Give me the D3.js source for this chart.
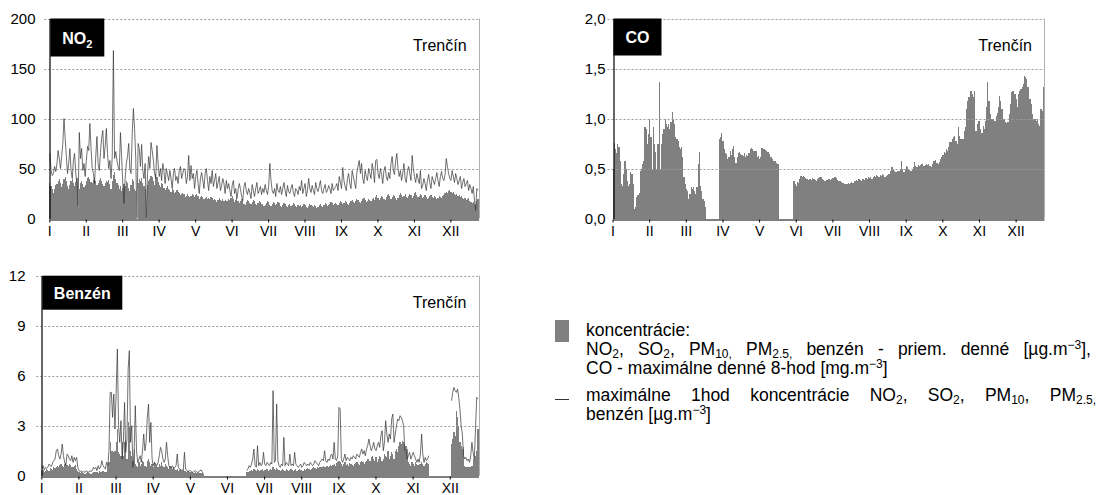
<!DOCTYPE html>
<html><head><meta charset="utf-8">
<script src="https://cdn.jsdelivr.net/npm/d3@7"></script>
<style>body{margin:0;background:#fff}svg{display:block;font-family:"Liberation Sans",Arial,sans-serif}</style>
</head><body><svg id="c" width="1102" height="495"></svg>
<script>
// ---------- data ----------
const monthLabels = ["I","II","III","IV","V","VI","VII","VIII","IX","X","XI","XII"];
const monthStart = [0,31,59,90,120,151,181,212,243,273,304,334];
const monthTickDays = [0,31,62,93,124,155,186,217,248,279,310,341];
const station = "Trenčín";
const no2Ticks = [0,50,100,150,200];
const coTicks = [0,0.5,1,1.5,2];
const benzTicks = [0,3,6,9,12];
const N = null;

const no2Daily = [
[36,33,30,26,30,34,35,38,40,36,32,35,40,42,38,33,30,34,38,40,36,33,37,41,12,30,36,38,35,32,34],
[38,41,42,40,37,36,39,41,38,34,36,39,41,38,35,33,36,38,37,39,35,30,38,44,47,40,36,34],
[30,33,28,31,35,33,38,36,31,28,34,40,38,30,28,0,36,40,38,41,36,33,30,0,34,38,40,43,42,38,34],
[45,42,37,34,32,36,35,31,29,31,33,30,29,27,30,29,26,27,29,27,26,24,25,26,25,22,23,25,23,22],
[23,25,24,22,24,25,23,20,22,23,22,20,21,22,20,21,20,22,21,19,20,19,17,19,21,19,18,20,18,19,18],
[18,20,19,21,23,20,17,19,21,18,16,18,20,19,15,14,17,19,18,16,15,17,19,18,15,14,16,18,17,15],
[15,13,14,16,18,17,14,13,15,17,16,14,15,17,16,13,12,14,16,15,13,12,14,15,13,14,16,15,13,12,14],
[13,14,12,13,15,14,12,11,13,15,14,13,12,14,13,11,12,14,15,13,12,14,16,15,13,14,15,17,16,14,15],
[16,15,14,16,18,17,15,16,18,17,15,14,16,18,19,17,16,18,20,19,17,16,18,20,21,19,17,18,20,19],
[18,20,21,19,22,24,21,19,21,23,22,20,19,22,24,25,23,20,22,24,23,21,19,21,24,26,24,22,23,25,22],
[21,23,25,24,21,23,26,27,24,22,23,25,24,21,22,24,22,20,21,23,24,22,21,23,22,20,21,23,22,21],
[23,24,26,27,26,28,29,27,26,27,25,24,25,23,24,22,23,21,20,21,19,20,21,18,17,16,17,15,14,18,20]
];
const no2Max = [
[65,48,43,45,52,47,55,68,60,50,62,75,100,80,62,45,55,70,48,40,58,65,45,35,12,86,60,70,48,55,42],
[58,72,68,95,70,50,45,35,62,82,55,48,66,80,88,60,72,90,65,50,58,40,62,168,60,67,58,52],
[48,86,62,35,15,40,55,62,75,50,45,85,110,90,60,0,75,70,52,74,48,40,55,0,45,62,50,76,68,58,45],
[40,73,55,42,50,38,55,47,35,50,44,38,48,40,30,45,50,38,42,35,48,52,40,45,50,48,35,42,63,38],
[53,40,45,30,42,48,35,25,40,46,38,30,45,50,38,28,42,35,48,32,38,45,30,36,42,28,33,40,35,25,38],
[30,35,28,22,33,38,25,30,20,28,35,30,22,18,32,36,28,24,30,26,20,34,28,22,30,36,25,28,32,24],
[30,26,34,28,24,32,55,38,28,25,30,22,35,28,26,32,24,30,36,28,22,33,27,25,30,34,26,22,30,28,24],
[32,28,38,25,30,35,22,28,40,30,26,33,28,24,36,30,27,32,38,28,25,30,34,26,28,33,30,25,35,28,30],
[32,35,28,42,36,30,51,38,32,28,40,45,35,30,48,42,36,30,46,52,58,45,55,40,35,48,42,38,50,45],
[40,55,48,36,58,59,45,40,50,44,35,48,52,42,38,46,40,55,62,48,44,58,65,50,42,48,38,45,55,40,36],
[48,52,45,38,63,50,42,36,45,40,35,48,30,33,40,35,28,38,44,36,30,42,38,34,40,46,38,32,42,47],
[40,38,44,60,52,45,40,38,48,42,36,45,40,34,38,42,30,36,40,32,35,38,28,34,30,25,32,18,8,30,28]
];
const coDaily = [
[0.5,0.76,0.7,0.66,0.75,0.72,0.58,0.35,0.33,0.45,0.58,0.5,0.38,0.33,0.35,0.47,0.45,0.35,0.1,0.12,0.22,0.24,0.26,0.48,0.5,0.55,0.58,0.92,0.9,0.75,0.85],
[1.0,0.82,0.5,0.92,0.75,0.67,0.5,0.75,1.37,0.5,0.75,0.85,0.9,1.0,0.95,0.92,0.95,0.9,0.97,1.07,1.0,0.95,0.82,0.8,0.78,0.72,0.7,0.72],
[0.62,0.42,0.35,0.3,0.28,0.2,0.25,0.32,0.3,0.32,0.28,0.25,0.32,0.55,0.67,0.33,0.28,0.2,0.18,0.12,N,N,N,N,N,N,N,N,N,N,N],
[0.8,0.82,0.86,0.78,0.7,0.66,0.65,0.6,0.62,0.68,0.64,0.7,0.73,0.62,0.56,0.62,0.66,0.67,0.65,0.64,0.63,0.66,0.62,0.64,0.63,0.66,0.7,0.71,0.7,0.68],
[0.68,0.68,0.62,0.63,0.6,0.62,0.71,0.7,0.7,0.69,0.68,0.67,0.65,0.62,0.62,0.6,0.58,0.58,0.56,0.55,0.55,N,N,N,N,N,N,N,N,N,N],
[N,N,0.38,0.35,0.33,0.37,0.36,0.4,0.43,0.42,0.43,0.42,0.41,0.4,0.39,0.4,0.4,0.39,0.41,0.4,0.39,0.38,0.4,0.41,0.42,0.42,0.4,0.39,0.38,0.38],
[0.39,0.4,0.4,0.39,0.4,0.41,0.42,0.42,0.41,0.39,0.38,0.38,0.37,0.36,0.36,0.35,0.35,0.35,0.36,0.35,0.36,0.37,0.36,0.38,0.38,0.39,0.38,0.4,0.39,0.38,0.4],
[0.4,0.39,0.41,0.4,0.42,0.41,0.42,0.4,0.42,0.43,0.42,0.44,0.43,0.42,0.44,0.43,0.45,0.44,0.42,0.43,0.44,0.45,0.45,0.48,0.52,0.5,0.48,0.47,0.47,0.48,0.48],
[0.49,0.58,0.5,0.47,0.5,0.53,0.52,0.5,0.49,0.48,0.5,0.52,0.57,0.53,0.52,0.54,0.53,0.54,0.55,0.55,0.53,0.54,0.55,0.54,0.55,0.53,0.52,0.55,0.58,0.58],
[0.59,0.56,0.55,0.57,0.6,0.62,0.64,0.67,0.66,0.7,0.68,0.72,0.77,0.77,0.8,0.82,0.83,0.78,0.75,0.92,0.83,0.8,0.8,0.8,0.88,0.92,1.1,1.18,1.22,1.28,1.28],
[1.25,1.22,1.28,0.88,0.95,0.98,0.98,0.9,0.86,0.93,0.9,0.98,1.12,1.37,1.18,1.05,1.0,1.0,1.0,0.98,1.03,1.06,1.12,1.23,1.18,1.1,1.0,1.0,0.97,0.96],
[0.97,1.05,1.15,1.27,1.28,1.28,1.25,1.2,1.12,1.25,1.28,1.3,1.32,1.35,1.43,1.42,1.4,1.32,1.2,1.2,1.15,1.05,1.0,1.0,0.98,1.0,0.95,0.93,1.1,1.08,1.32]
];
const benzDaily = [
[0.3,0.35,0.25,0.3,0.4,0.35,0.3,0.45,0.4,0.35,0.5,0.45,0.55,0.6,0.5,0.65,0.7,0.6,0.55,0.7,0.75,0.65,0.6,0.7,0.65,0.55,0.5,0.6,0.65,0.4,0.3],
[0.2,0.15,0.2,0.15,0.18,0.12,0.15,0.2,0.18,0.15,0.12,0.15,0.2,0.22,0.25,0.2,0.18,0.3,0.25,0.2,0.3,0.25,0.2,0.25,0.6,0.8,2.0,1.5],
[1.5,1.4,1.5,2.0,2.8,1.4,1.3,1.2,2.0,1.2,2.0,2.1,1.0,3.2,3.0,1.5,1.2,0.9,1.6,0.7,0.6,0.5,0.8,0.6,0.7,0.9,0.8,0.6,0.5,0.9,1.0],
[0.8,0.6,0.7,0.5,0.8,0.7,0.6,0.5,0.7,0.6,0.8,0.6,0.5,0.7,0.6,0.5,0.4,0.6,0.5,0.4,0.5,0.4,0.35,0.4,0.3,0.35,0.4,0.3,0.35,0.3],
[0.3,0.25,0.3,0.2,0.25,0.2,0.2,0.15,0.2,0.18,0.15,0.2,0.15,0.18,0.15,0.12,N,N,N,N,N,N,N,N,N,N,N,N,N,N,N],
[N,N,N,N,N,N,N,N,N,N,N,N,N,N,N,N,N,N,N,N,0.2,0.25,0.3,0.3,0.35,0.3,0.4,0.35,0.3,0.4],
[0.35,0.3,0.35,0.4,0.3,0.35,0.35,0.4,0.3,0.35,0.4,0.35,0.5,0.4,0.35,0.45,0.4,0.35,0.3,0.35,0.4,0.35,0.3,0.4,0.35,0.3,0.35,0.4,0.35,0.3,0.35],
[0.4,0.3,0.35,0.4,0.35,0.35,0.3,0.4,0.35,0.4,0.45,0.4,0.35,0.4,0.45,0.5,0.45,0.4,0.5,0.45,0.5,0.55,0.5,0.6,0.55,0.5,0.6,0.55,0.6,0.65,0.6],
[0.65,0.7,0.6,0.75,0.8,0.9,0.8,0.7,0.6,0.7,0.8,0.65,0.7,0.6,0.75,0.7,0.65,0.6,0.7,0.75,0.8,0.7,0.65,0.8,0.9,0.8,0.7,0.85,0.9,1.0],
[1.0,0.9,1.1,1.2,1.0,0.9,1.1,0.8,1.0,1.2,1.1,0.9,1.0,1.3,1.2,1.1,1.5,1.0,1.2,1.4,1.3,1.0,1.5,1.6,1.4,1.8,2.0,1.9,2.1,2.0,1.9],
[1.8,1.6,0.8,0.7,0.6,0.8,0.7,0.6,0.8,0.7,0.65,0.7,0.7,0.8,0.7,0.6,0.7,0.8,0.75,0.7,N,N,N,N,N,N,N,N,N,N],
[N,N,N,N,N,N,N,N,1.9,2.2,2.6,2.4,3.9,3.5,3.0,2.0,1.8,1.6,1.7,0.6,0.55,0.55,0.5,0.5,0.55,0.6,1.0,1.0,1.2,1.5,2.8]
];
const benzMax = [
[0.4,0.6,0.35,0.5,0.45,0.5,0.7,0.6,0.55,0.8,0.9,1.0,1.5,1.6,1.2,1.0,1.3,1.9,1.2,0.8,0.6,1.3,1.2,1.0,0.9,1.2,0.8,1.1,0.9,1.1,0.5],
[0.3,0.25,0.3,0.2,0.25,0.2,0.3,0.25,0.2,0.3,0.25,0.3,0.5,0.4,0.5,0.3,0.6,0.4,0.5,0.9,0.6,0.5,0.4,0.8,0.6,1.5,5.0,5.0],
[3.5,4.9,2.8,5.0,7.6,3.0,2.0,3.3,1.0,2.0,4.4,1.4,2.2,6.4,7.5,2.0,3.0,0.5,1.5,4.2,1.5,0.8,1.0,1.2,0.8,1.5,2.5,1.5,2.0,3.5,4.3],
[2.0,3.2,1.0,0.6,0.8,0.7,0.6,0.8,1.2,1.7,1.5,1.0,0.8,1.0,2.0,1.2,0.6,0.5,0.5,0.6,0.4,0.5,0.6,1.3,0.5,0.4,0.3,0.35,0.3,1.4],
[0.4,0.3,0.25,0.3,0.3,0.25,0.2,0.25,0.3,0.25,0.2,0.25,0.3,0.35,0.2,0.15,N,N,N,N,N,N,N,N,N,N,N,N,N,N,N],
[N,N,N,N,N,N,N,N,N,N,N,N,N,N,N,N,N,N,N,N,0.3,0.4,0.6,0.5,0.7,1.0,1.6,0.6,0.5,1.8],
[0.6,0.8,0.6,0.7,1.4,0.7,0.6,0.8,0.7,0.6,0.8,0.7,5.1,0.8,0.9,4.3,0.9,0.6,0.5,0.7,0.6,2.3,0.6,0.8,0.7,0.6,1.3,0.6,0.7,0.6,1.4],
[0.7,0.6,0.5,0.6,0.7,0.5,0.6,0.8,0.7,0.6,0.7,0.6,0.8,0.7,0.6,0.7,0.9,0.8,0.7,0.6,0.8,0.9,1.0,0.9,1.5,0.9,0.8,1.0,0.9,1.2,1.3],
[1.0,2.0,1.0,0.9,1.2,4.1,4.0,1.0,0.8,1.0,1.3,0.9,1.1,1.0,0.9,1.1,1.0,1.2,1.1,1.0,1.3,1.2,1.1,1.4,1.6,1.3,1.5,1.2,1.6,1.8],
[2.2,1.8,1.5,1.7,2.0,1.6,1.5,1.8,2.0,1.7,2.4,2.7,1.5,2.0,3.3,2.5,2.0,2.5,2.2,3.4,3.7,2.0,2.5,3.0,3.4,3.3,3.6,3.5,3.3,3.0,1.5],
[1.5,1.0,1.2,1.4,1.0,1.2,1.4,1.2,1.0,0.8,1.0,0.8,1.3,2.5,1.3,0.8,1.1,0.9,1.0,1.2,N,N,N,N,N,N,N,N,N,N],
[N,N,N,N,N,N,N,N,4.5,5.0,5.3,5.1,5.0,5.2,4.7,4.0,3.0,2.5,1.2,1.0,1.1,0.9,1.0,0.8,1.2,2.0,1.4,1.0,2.8,4.7,4.6]
];

// ---------- drawing ----------
const svg = d3.select("#c");
const FONT = '"Liberation Sans",Arial,sans-serif';
function toDays(months){
  const out=[];
  months.forEach((arr,m)=>arr.forEach((v,i)=>out.push({day:monthStart[m]+i,v:v})));
  return out;
}
const comma = d3.format(".1f");

function panel(cfg){
  const g = svg.append("g");
  const x = d3.scaleLinear().domain([0,365]).range([cfg.left,cfg.right]);
  const y = d3.scaleLinear().domain([0,cfg.ymax]).range([cfg.bottom,cfg.top]);
  const bars = toDays(cfg.bars).filter(d=>d.v!=null && d.v>0);
  g.append("g").attr("shape-rendering","crispEdges").selectAll("rect").data(bars).join("rect")
    .attr("x",d=>Math.round(x(d.day)))
    .attr("width",d=>Math.max(1,Math.round(x(d.day+1))-Math.round(x(d.day))))
    .attr("y",d=>y(d.v)).attr("height",d=>y(0)-y(d.v))
    .attr("fill","#808080");
  // gridlines (drawn over bars), with short outer ticks on the left
  g.append("g").selectAll("line").data(cfg.ticks.filter(t=>t>0)).join("line")
    .attr("x1",cfg.left-5).attr("x2",cfg.right)
    .attr("y1",d=>Math.round(y(d))+0.5).attr("y2",d=>Math.round(y(d))+0.5)
    .attr("stroke","#9c9c9c").attr("stroke-width",1).attr("stroke-dasharray","2,2");
  // right border
  g.append("line").attr("x1",Math.round(cfg.right)+0.5).attr("x2",Math.round(cfg.right)+0.5)
    .attr("y1",y(cfg.ymax)).attr("y2",y(0)).attr("stroke","#b0b0b0");
  if(cfg.line){
    const ld = toDays(cfg.line);
    g.append("path").datum(ld)
      .attr("d",d3.line().defined(d=>d.v!=null).x(d=>x(d.day+0.5)).y(d=>y(d.v)))
      .attr("fill","none").attr("stroke","#333").attr("stroke-width",0.7);
  }
  // y axis
  const ya = g.append("g").attr("transform",`translate(${Math.round(cfg.left)+0.5},0)`)
    .call(d3.axisLeft(y).tickValues(cfg.ticks).tickSize(0).tickPadding(cfg.ypad).tickFormat(cfg.fmt));
  ya.select(".domain").attr("stroke","#000").attr("stroke-width",1.2);
  ya.selectAll("text").attr("font-family",FONT).attr("font-size",15).attr("fill","#000");
  // x axis
  const xa = g.append("g").attr("transform",`translate(0,${Math.round(cfg.bottom)+0.5})`)
    .call(d3.axisBottom(x).tickValues(monthTickDays).tickSize(3).tickPadding(4).tickSizeOuter(0)
      .tickFormat((d,i)=>monthLabels[i]));
  xa.select(".domain").attr("stroke","#000").attr("stroke-width",1.2);
  xa.selectAll("line").attr("stroke","#000");
  xa.selectAll("text").attr("font-family",FONT).attr("font-size",14).attr("fill","#000");
  // title box
  g.append("rect").attr("x",cfg.left+1).attr("y",cfg.top).attr("width",cfg.boxW).attr("height",cfg.boxH).attr("fill","#000");
  const t = g.append("text").attr("x",cfg.left+1+cfg.boxW/2).attr("y",cfg.top+cfg.boxH/2+6)
    .attr("text-anchor","middle").attr("font-family",FONT).attr("font-weight","bold")
    .attr("font-size",16).attr("fill","#fff");
  cfg.title.forEach(s=>{
    const ts=t.append("tspan").text(s.t);
    if(s.sub) ts.attr("font-size",11).attr("dy",4);
  });
  g.append("text").attr("x",cfg.right-12).attr("y",cfg.top+32).attr("text-anchor","end")
    .attr("font-family",FONT).attr("font-size",16).attr("fill","#000").text(station);
}

panel({left:49.3,right:478.6,top:18.5,bottom:218.5,ymax:200,ticks:no2Ticks,fmt:d=>d,ypad:14,
  bars:no2Daily,line:no2Max,boxW:54,boxH:38,title:[{t:"NO"},{t:"2",sub:true}]});
panel({left:612.5,right:1044,top:18.5,bottom:218.5,ymax:2,ticks:coTicks,fmt:d=>comma(d).replace(".",","),ypad:8,
  bars:coDaily,line:null,boxW:48,boxH:37,title:[{t:"CO"}]});
panel({left:41.3,right:478.5,top:275.7,bottom:475.7,ymax:12,ticks:benzTicks,fmt:d=>d,ypad:16,
  bars:benzDaily,line:benzMax,boxW:80,boxH:34,title:[{t:"Benzén"}]});

// ---------- legend ----------
const LX = 586;
const lg = svg.append("g").attr("font-family",FONT).attr("font-size",17.5).attr("fill","#000");
lg.append("rect").attr("x",555).attr("y",320).attr("width",14).attr("height",22).attr("fill","#808080");
lg.append("line").attr("x1",555).attr("x2",569).attr("y1",399.5).attr("y2",399.5).attr("stroke","#333").attr("stroke-width",1);
function richLine(yb,segs,justifyTo){
  const t = lg.append("text").attr("x",LX).attr("y",yb);
  let shift=0;
  segs.forEach(s=>{
    const ts=t.append("tspan").text(s.t);
    let target = s.sub?2.5:(s.sup?-6:0);
    if(s.sub||s.sup) ts.attr("font-size",12);
    if(target!==shift){ ts.attr("dy",target-shift); shift=target; }
  });
  if(justifyTo){
    const w = t.node().getComputedTextLength();
    const spaces = segs.map(s=>s.t).join("").split(" ").length-1;
    if(spaces>0 && justifyTo-LX>w) t.attr("word-spacing",((justifyTo-LX-w)/spaces).toFixed(2));
  }
}
richLine(336,[{t:"koncentrácie:"}]);
richLine(355,[{t:"NO"},{t:"2",sub:1},{t:", SO"},{t:"2",sub:1},{t:", PM"},{t:"10,",sub:1},{t:" PM"},{t:"2.5,",sub:1},
  {t:" benzén - priem. denné [µg.m"},{t:"−3",sup:1},{t:"],"}],1091);
richLine(374,[{t:"CO - maximálne denné 8-hod [mg.m"},{t:"−3",sup:1},{t:"]"}]);
richLine(401,[{t:"maximálne 1hod koncentrácie NO"},{t:"2",sub:1},{t:", SO"},{t:"2",sub:1},{t:", PM"},{t:"10",sub:1},
  {t:", PM"},{t:"2.5,",sub:1}],1096);
richLine(420,[{t:"benzén [µg.m"},{t:"−3",sup:1},{t:"]"}]);
</script></body></html>
